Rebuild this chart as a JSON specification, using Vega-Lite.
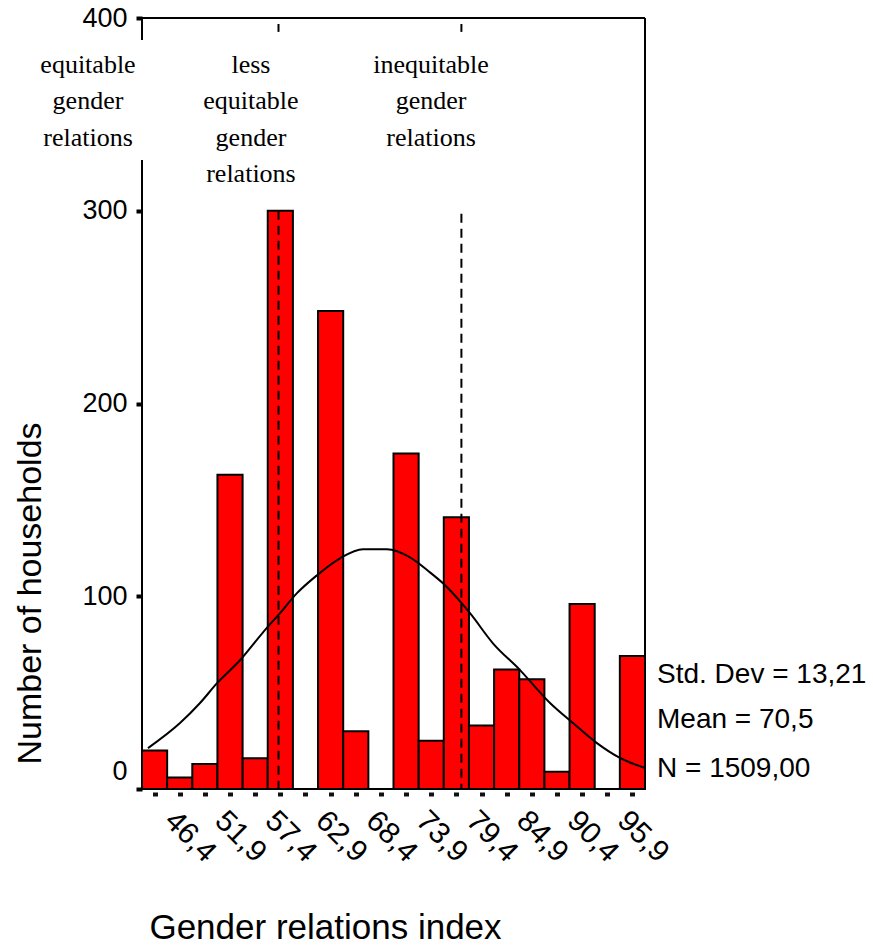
{
  "$schema": "https://vega.github.io/schema/vega-lite/v6.json",
  "width": 503,
  "height": 771,
  "autosize": "none",
  "padding": {"left": 142, "top": 18, "right": 228, "bottom": 156},
  "background": "white",
  "config": {"view": {"stroke": null}},
  "datasets": {
    "bins": [
      {"lo": 42.275, "hi": 45.025, "n": 20},
      {"lo": 45.025, "hi": 47.775, "n": 6},
      {"lo": 47.775, "hi": 50.525, "n": 13},
      {"lo": 50.525, "hi": 53.275, "n": 163},
      {"lo": 53.275, "hi": 56.025, "n": 16},
      {"lo": 56.025, "hi": 58.775, "n": 300},
      {"lo": 58.775, "hi": 61.525, "n": 0},
      {"lo": 61.525, "hi": 64.275, "n": 248},
      {"lo": 64.275, "hi": 67.025, "n": 30},
      {"lo": 67.025, "hi": 69.775, "n": 0},
      {"lo": 69.775, "hi": 72.525, "n": 174},
      {"lo": 72.525, "hi": 75.275, "n": 25},
      {"lo": 75.275, "hi": 78.025, "n": 141},
      {"lo": 78.025, "hi": 80.775, "n": 33},
      {"lo": 80.775, "hi": 83.525, "n": 62},
      {"lo": 83.525, "hi": 86.275, "n": 57},
      {"lo": 86.275, "hi": 89.025, "n": 9},
      {"lo": 89.025, "hi": 91.775, "n": 96},
      {"lo": 91.775, "hi": 94.525, "n": 0},
      {"lo": 94.525, "hi": 97.275, "n": 69}
    ],
    "curve": [
      {"v": 42.93, "c": 21.2},
      {"v": 46.43, "c": 34.2},
      {"v": 48.62, "c": 44.6},
      {"v": 50.48, "c": 54.9},
      {"v": 52.99, "c": 66.8},
      {"v": 55.51, "c": 81.3},
      {"v": 57.36, "c": 91.2},
      {"v": 59.22, "c": 101.6},
      {"v": 61.41, "c": 110.9},
      {"v": 63.93, "c": 119.7},
      {"v": 66.44, "c": 124.4},
      {"v": 69.06, "c": 124.4},
      {"v": 71.58, "c": 120.2},
      {"v": 73.76, "c": 112.4},
      {"v": 75.19, "c": 106.7},
      {"v": 78.14, "c": 91.2},
      {"v": 80.65, "c": 75.6},
      {"v": 83.61, "c": 61.7},
      {"v": 86.89, "c": 44.6},
      {"v": 89.4, "c": 34.2},
      {"v": 92.02, "c": 23.8},
      {"v": 94.54, "c": 16.1},
      {"v": 97.27, "c": 10.9}
    ],
    "cutoffs": [
      {"at": 57.2, "top": 300, "bottom": 0},
      {"at": 77.2, "top": 298.4, "bottom": 0},
      {"at": 57.2, "top": 396.9, "bottom": 392.8},
      {"at": 77.2, "top": 396.9, "bottom": 392.8}
    ],
    "leftline": [
      {"top": 400, "bottom": 388.6},
      {"top": 326.3, "bottom": 0}
    ],
    "one": [{}],
    "groups": [
      {"txt": "equitable\ngender\nrelations", "at": 36.37, "lvl": 371.5},
      {"txt": "less\nequitable\ngender\nrelations", "at": 54.19, "lvl": 371.5},
      {"txt": "inequitable\ngender\nrelations", "at": 73.88, "lvl": 371.5}
    ],
    "stats": [
      {"txt": "Std. Dev = 13,21", "lvl": 55},
      {"txt": "Mean = 70,5", "lvl": 31.6},
      {"txt": "N = 1509,00", "lvl": 6.2}
    ]
  },
  "layer": [
    {
      "data": {"name": "bins"},
      "mark": {"type": "rect", "fill": "#ff0000", "stroke": "black", "strokeWidth": 2},
      "encoding": {
        "x": {
          "field": "lo", "type": "quantitative",
          "scale": {"domain": [42.275, 97.275], "nice": false, "zero": false},
          "axis": {
            "values": [43.65, 46.4, 49.15, 51.9, 54.65, 57.4, 60.15, 62.9, 65.65, 68.4, 71.15, 73.9, 76.65, 79.4, 82.15, 84.9, 87.65, 90.4, 93.15, 95.9],
            "tickCount": 40,
            "labelExpr": "round((datum.value - 43.65) / 2.75) % 2 == 1 ? replace(format(datum.value, '.1f'), '.', ',') : ''",
            "labelAngle": 45,
            "labelAlign": "left",
            "labelBaseline": "top",
            "labelFont": "Liberation Sans",
            "labelFontSize": 30,
            "labelColor": "black",
            "labelPadding": 9,
            "labelOverlap": false,
            "labelFlush": false,
            "tickColor": "#111",
            "tickSize": 4,
            "tickWidth": 5,
            "offset": 3,
            "domain": false,
            "grid": false,
            "title": "Gender relations index",
            "titleFont": "Liberation Sans",
            "titleFontSize": 35,
            "titleFontWeight": "normal",
            "titleColor": "black",
            "titleX": 183,
            "titleY": 146,
            "titleAlign": "center",
            "titleBaseline": "alphabetic"
          }
        },
        "x2": {"field": "hi"},
        "y": {
          "field": "n", "type": "quantitative",
          "scale": {"domain": [0, 400], "nice": false},
          "axis": {
            "values": [0, 100, 200, 300, 400],
            "labelFont": "Liberation Sans",
            "labelFontSize": 27,
            "labelColor": "black",
            "labelPadding": 9,
            "labelOffset": {"condition": {"test": "datum.value == 0", "value": -18}, "value": 0},
            "tickColor": "black",
            "tickSize": 6,
            "tickWidth": 4,
            "domain": false,
            "grid": false,
            "title": "Number of households",
            "titleFont": "Liberation Sans",
            "titleFontSize": 34,
            "titleFontWeight": "normal",
            "titleColor": "black",
            "titleAngle": -90,
            "titleX": -102,
            "titleY": 575,
            "titleAlign": "center",
            "titleBaseline": "alphabetic"
          }
        },
        "y2": {"datum": 0}
      }
    },
    {
      "data": {"name": "curve"},
      "mark": {"type": "line", "color": "black", "strokeWidth": 2, "interpolate": "monotone"},
      "encoding": {
        "x": {"field": "v", "type": "quantitative"},
        "y": {"field": "c", "type": "quantitative"}
      }
    },
    {
      "data": {"name": "cutoffs"},
      "mark": {"type": "rule", "color": "black", "strokeWidth": 2, "strokeDash": [9, 6]},
      "encoding": {
        "x": {"field": "at", "type": "quantitative"},
        "y": {"field": "top", "type": "quantitative"},
        "y2": {"field": "bottom"}
      }
    },
    {
      "data": {"name": "leftline"},
      "mark": {"type": "rule", "color": "black", "strokeWidth": 2},
      "encoding": {
        "x": {"datum": 42.275, "type": "quantitative"},
        "y": {"field": "top", "type": "quantitative"},
        "y2": {"field": "bottom"}
      }
    },
    {
      "data": {"name": "one"},
      "mark": {"type": "rule", "color": "black", "strokeWidth": 2},
      "encoding": {"y": {"datum": 400, "type": "quantitative"}}
    },
    {
      "data": {"name": "one"},
      "mark": {"type": "rule", "color": "black", "strokeWidth": 2},
      "encoding": {"y": {"datum": 0, "type": "quantitative"}}
    },
    {
      "data": {"name": "one"},
      "mark": {"type": "rule", "color": "black", "strokeWidth": 2},
      "encoding": {"x": {"datum": 97.275, "type": "quantitative"}}
    },
    {
      "data": {"name": "groups"},
      "mark": {"type": "text", "font": "Liberation Serif", "fontSize": 26, "lineBreak": "\n", "lineHeight": 36.5, "align": "center", "baseline": "alphabetic", "color": "black"},
      "encoding": {
        "x": {"field": "at", "type": "quantitative"},
        "y": {"field": "lvl", "type": "quantitative"},
        "text": {"field": "txt"}
      }
    },
    {
      "data": {"name": "stats"},
      "mark": {"type": "text", "font": "Liberation Sans", "fontSize": 28, "align": "left", "baseline": "alphabetic", "color": "black"},
      "encoding": {
        "x": {"datum": 98.59, "type": "quantitative"},
        "y": {"field": "lvl", "type": "quantitative"},
        "text": {"field": "txt"}
      }
    }
  ]
}
